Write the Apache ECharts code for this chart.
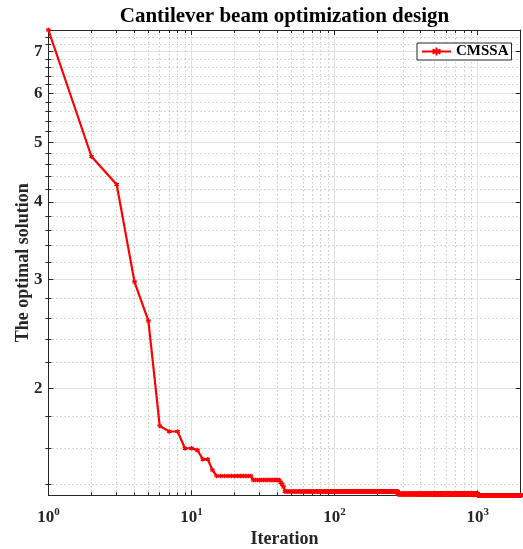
<!DOCTYPE html>
<html><head><meta charset="utf-8">
<script src="https://cdn.jsdelivr.net/npm/echarts@6/dist/echarts.min.js"></script>
<style>html,body{margin:0;padding:0;background:#fff}#c{width:523px;height:549px}</style>
</head><body><div id="c"></div>
<script>
// Best-so-far value: each run starts at runStart[i] and keeps runValue[i]
const runStart = [1, 2, 3, 4, 5, 6, 7, 9, 11, 12, 14, 15, 27, 42, 43, 44, 45, 277, 1001];
const runValue = [7.59, 4.74, 4.27, 2.97, 2.57, 1.738, 1.703, 1.600, 1.589, 1.536, 1.476, 1.443, 1.422, 1.41, 1.40, 1.385, 1.362, 1.349, 1.343];
const lastIter = 2000;
const seriesName = 'CMSSA';

const xMajorTicks = [1, 10, 100, 1000];
const xMinorTicks = [2,3,4,5,6,7,8,9,20,30,40,50,60,70,80,90,200,300,400,500,600,700,800,900];
const yMajorTicks = [2, 3, 4, 5, 6, 7];
const yMinorTicks = [1.4,1.6,1.8,2.2,2.4,2.6,2.8,3.2,3.4,3.6,3.8,4.2,4.4,4.6,4.8,5.2,5.4,5.6,5.8,6.2,6.4,6.6,6.8,7.2,7.4];

const L = Math.log10;
const data = [];
for (let r = 0; r < runStart.length; r++) {
  const end = r + 1 < runStart.length ? runStart[r + 1] - 1 : lastIter;
  for (let it = runStart[r]; it <= end; it++) data.push([L(it), L(runValue[r])]);
}
const xMin = L(1), xMax = L(lastIter);
const yMin = L(Math.min(...runValue)), yMax = L(Math.max(...runValue));

const FONT = "'Liberation Serif','Times New Roman',serif";
const AX = '#262626';
const majorGrid = {show: true, lineStyle: {color: '#e2e2e2', width: 1, type: 'solid'}};
const minorGrid = {show: true, lineStyle: {color: '#c8c8c8', width: 1, type: [1.5, 2.5]}};

function mkAxis(pos, min, max, ticks, len, opts) {
  return Object.assign({
    type: 'value', position: pos, min: min, max: max, scale: true,
    axisLine: {show: true, onZero: false, lineStyle: {color: AX, width: 1}},
    axisTick: {show: true, inside: true, length: len, customValues: ticks.map(L), lineStyle: {color: AX, width: 1}},
    axisLabel: {show: false},
    splitLine: {show: false}
  }, opts || {});
}

const chart = echarts.init(document.getElementById('c'), null, {renderer: 'canvas'});
chart.setOption({
  animation: false,
  backgroundColor: '#fff',
  title: {
    text: 'Cantilever beam optimization design',
    left: 284.5, top: 6, textAlign: 'center', padding: 0,
    textStyle: {fontFamily: FONT, fontWeight: 'bold', fontSize: 21, color: '#000'}
  },
  legend: {
    data: [seriesName], left: 417, top: 43, orient: 'vertical',
    padding: [1, 3, 1, 4], itemWidth: 29, itemHeight: 10,
    backgroundColor: '#fff', borderColor: AX, borderWidth: 1, borderRadius: 0,
    textStyle: {fontFamily: FONT, fontWeight: 'bold', fontSize: 15, color: '#000'}
  },
  grid: {left: 48.4, right: 2.3, top: 30, bottom: 53.7, containLabel: false, outerBoundsMode: 'none'},
  xAxis: [
    mkAxis('bottom', xMin, xMax, xMajorTicks, 5, {
      axisLabel: {
        show: true, customValues: xMajorTicks.map(L), margin: 11, color: AX,
        formatter: v => '{b|10}{s|' + Math.round(v) + '}',
        rich: {
          b: {fontFamily: FONT, fontWeight: 'bold', fontSize: 17, color: AX, lineHeight: 20, verticalAlign: 'bottom'},
          s: {fontFamily: FONT, fontWeight: 'bold', fontSize: 11, color: AX, lineHeight: 11, verticalAlign: 'top'}
        }
      },
      splitLine: majorGrid,
      name: 'Iteration', nameLocation: 'middle', nameGap: 35, nameMoveOverlap: false,
      nameTextStyle: {fontFamily: FONT, fontWeight: 'bold', fontSize: 18, color: AX}
    }),
    mkAxis('bottom', xMin, xMax, xMinorTicks, 3, {axisLine: {show: false}, splitLine: minorGrid}),
    mkAxis('top', xMin, xMax, xMajorTicks, 5),
    mkAxis('top', xMin, xMax, xMinorTicks, 3, {axisLine: {show: false}})
  ],
  yAxis: [
    mkAxis('left', yMin, yMax, yMajorTicks, 5, {
      axisLabel: {
        show: true, customValues: yMajorTicks.map(L), margin: 6, color: AX,
        fontFamily: FONT, fontWeight: 'bold', fontSize: 17,
        formatter: v => String(Math.round(Math.pow(10, v)))
      },
      splitLine: majorGrid,
      name: 'The optimal solution', nameLocation: 'middle', nameGap: 16, nameMoveOverlap: false,
      nameTextStyle: {fontFamily: FONT, fontWeight: 'bold', fontSize: 18, color: AX}
    }),
    mkAxis('left', yMin, yMax, yMinorTicks, 3, {axisLine: {show: false}, splitLine: minorGrid}),
    mkAxis('right', yMin, yMax, yMajorTicks, 5),
    mkAxis('right', yMin, yMax, yMinorTicks, 3, {axisLine: {show: false}})
  ],
  series: [{
    name: seriesName, type: 'line', xAxisIndex: 0, yAxisIndex: 0,
    data: data, showSymbol: true, showAllSymbol: true,
    symbol: 'path://M0,-5L0,5M-4.33,-2.5L4.33,2.5M-4.33,2.5L4.33,-2.5',
    symbolSize: 4.5,
    lineStyle: {color: '#ff0000', width: 2.2},
    itemStyle: {color: '#ff0000', borderColor: '#ff0000', borderWidth: 1.5},
    z: 10
  }]
});
</script></body></html>
